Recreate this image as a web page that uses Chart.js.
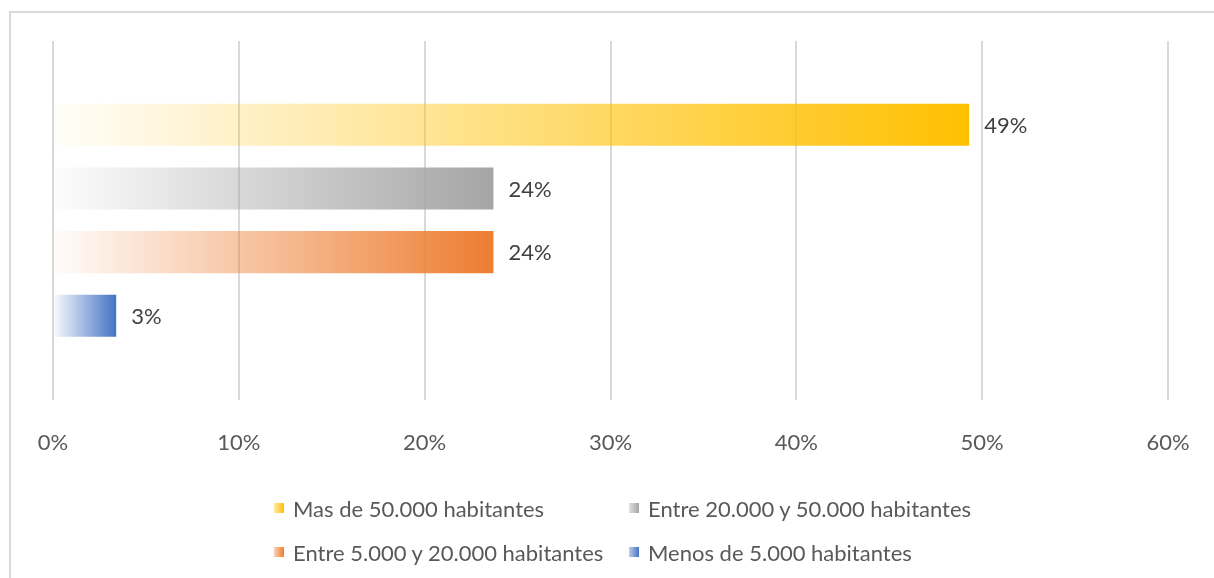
<!DOCTYPE html>
<html>
<head>
<meta charset="utf-8">
<script src="https://cdn.jsdelivr.net/npm/chart.js@4.4.1/dist/chart.umd.min.js"></script>
<style>
  html, body { margin: 0; padding: 0; background: #fff; }
  #wrap { position: relative; width: 1214px; height: 578px; overflow: hidden; }
  #leyenda {
    position: absolute; left: 274px; top: 486px;
    display: grid; grid-template-columns: 355px auto;
    font-family: Lato, "Open Sans", sans-serif; font-size: 22px; color: #595959;
  }
  #leyenda .item { display: flex; align-items: center; height: 44px; white-space: nowrap; }
  #leyenda .caja { width: 10px; height: 10px; margin-right: 9px; }
</style>
</head>
<body>
<div id="wrap">
  <canvas id="myChart"></canvas>
  <div id="leyenda"></div>
</div>
<script>
// Datos
const categorias = [''];
const series = [
    'Mas de 50.000 habitantes',
    'Entre 20.000 y 50.000 habitantes',
    'Entre 5.000 y 20.000 habitantes',
    'Menos de 5.000 habitantes'
];
const valores = [49.3, 23.7, 23.7, 3.4];
const ticksEje = [0, 10, 20, 30, 40, 50, 60];

const colores = ['255,192,0', '165,165,165', '237,125,49', '68,114,196'];
const fuente = 'Lato, "Open Sans", sans-serif';
const grisTexto = '#595959';

// Degradado de blanco a color a lo largo de la barra
function degradado(i) {
    return function(context) {
        const chart = context.chart;
        if (!chart.chartArea) return 'rgb(' + colores[i] + ')';
        const x = chart.scales.x;
        const x0 = x.getPixelForValue(0);
        const x1 = x.getPixelForValue(valores[i]);
        const g = chart.ctx.createLinearGradient(x0, 0, x1, 0);
        g.addColorStop(0, 'rgba(' + colores[i] + ',0.02)');
        g.addColorStop(1, 'rgba(' + colores[i] + ',1)');
        return g;
    };
}

// Marco gris alrededor del gráfico
const marco = {
    id: 'marco',
    beforeDraw(chart) {
        const ctx = chart.ctx;
        ctx.save();
        ctx.strokeStyle = '#d9d9d9';
        ctx.lineWidth = 2;
        ctx.strokeRect(10, 12, 1230, 620);
        ctx.restore();
    }
};

// Etiquetas de valor a la derecha de cada barra
const etiquetas = {
    id: 'etiquetas',
    afterDatasetsDraw(chart) {
        const ctx = chart.ctx;
        ctx.save();
        ctx.font = '22px ' + fuente;
        ctx.fillStyle = '#404040';
        ctx.textAlign = 'left';
        ctx.textBaseline = 'middle';
        chart.data.datasets.forEach(function(ds, i) {
            const bar = chart.getDatasetMeta(i).data[0];
            ctx.fillText(Math.round(ds.data[0]) + '%', bar.x + 15, bar.y + 1);
        });
        ctx.restore();
    }
};

const config = {
    type: 'bar',
    data: {
        labels: categorias,
        datasets: series.map(function(nombre, i) {
            return {
                label: nombre,
                data: [valores[i]],
                backgroundColor: degradado(i),
                borderWidth: 0,
                categoryPercentage: 0.71,
                barPercentage: 0.66
            };
        })
    },
    options: {
        indexAxis: 'y',
        responsive: true,
        maintainAspectRatio: false,
        animation: false,
        layout: { padding: { left: 53, right: 46, top: 41, bottom: 92 } },
        scales: {
            x: {
                min: 0,
                max: 60,
                afterBuildTicks(scale) {
                    scale.ticks = ticksEje.map(function(v) { return { value: v }; });
                },
                afterFit(scale) {
                    scale.paddingLeft = 0;
                    scale.paddingRight = 0;
                },
                border: { display: false },
                grid: { color: '#d9d9d9', lineWidth: 2, drawTicks: false },
                ticks: {
                    padding: 30,
                    color: grisTexto,
                    font: { family: fuente, size: 22 },
                    callback: function(v) { return v + '%'; }
                }
            },
            y: { display: false }
        },
        plugins: {
            tooltip: { enabled: false },
            legend: { display: false }
        }
    },
    plugins: [marco, etiquetas]
};

const miGrafico = new Chart(document.getElementById('myChart'), config);

// Leyenda en dos filas, como en el original
const leyenda = document.getElementById('leyenda');
miGrafico.data.datasets.forEach(function(ds, i) {
    const item = document.createElement('div');
    item.className = 'item';
    const caja = document.createElement('span');
    caja.className = 'caja';
    caja.style.background = 'linear-gradient(to right, rgba(' + colores[i] + ',0.35), rgb(' + colores[i] + '))';
    item.appendChild(caja);
    item.appendChild(document.createTextNode(ds.label));
    leyenda.appendChild(item);
});
</script>
</body>
</html>
